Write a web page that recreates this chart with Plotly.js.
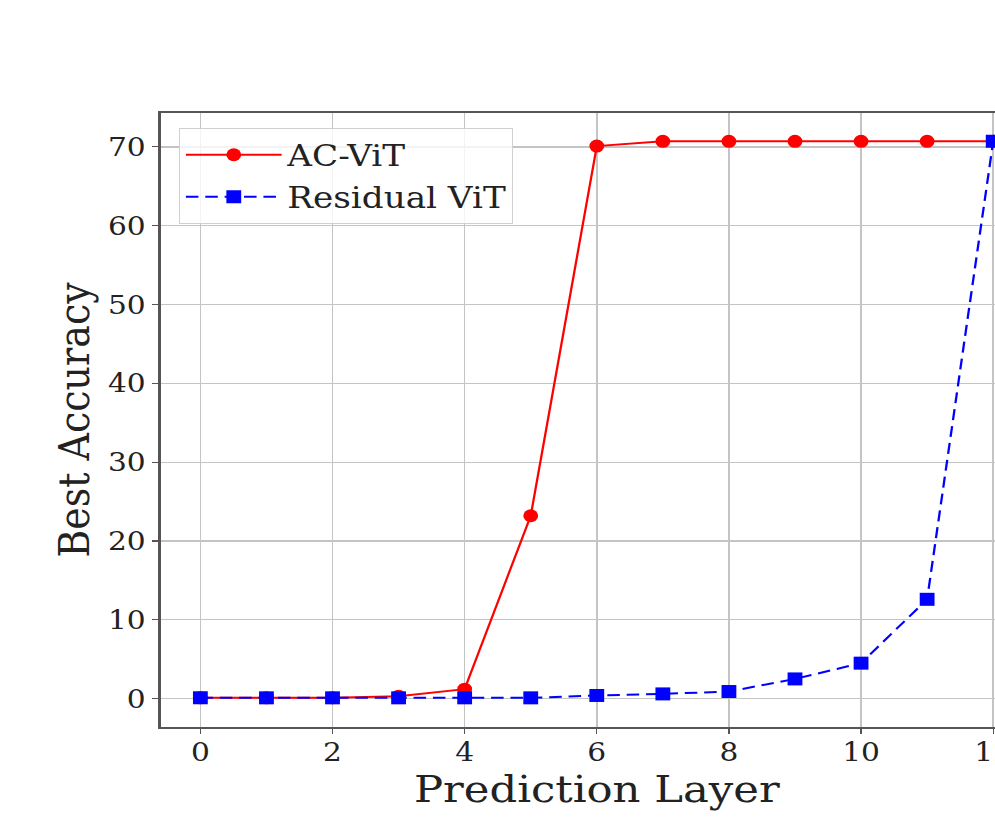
<!DOCTYPE html>
<html>
<head>
<meta charset="utf-8">
<script src="https://cdn.plot.ly/plotly-3.0.1.min.js"></script>
<style>
html,body{margin:0;padding:0;overflow:hidden;background:#fff;}
#wrap{width:995px;height:817px;overflow:hidden;position:relative;}
#chart{width:930px;height:817px;transform:scaleX(1.14);transform-origin:0 0;position:absolute;left:0;top:0;}
</style>
</head>
<body>
<div id="wrap"><div id="chart"></div></div>
<script>
const layers = [0,1,2,3,4,5,6,7,8,9,10,11,12];
const acVit = [0.1,0.1,0.1,0.3,1.2,23.2,70.1,70.7,70.7,70.7,70.7,70.7,70.7];
const residualVit = [0.1,0.1,0.1,0.1,0.1,0.1,0.4,0.6,0.9,2.5,4.5,12.6,70.7];
const xTicks = [0,2,4,6,8,10,12];
const yTicks = [0,10,20,30,40,50,60,70];

const font = 'DejaVu Serif, serif';
const traces = [
  {x: layers, y: acVit, name: 'AC-ViT', type: 'scatter', mode: 'lines+markers',
   line: {color: '#ff0000', width: 2}, marker: {color: '#ff0000', size: 13, symbol: 'circle'}},
  {x: layers, y: residualVit, name: 'Residual ViT', type: 'scatter', mode: 'lines+markers',
   line: {color: '#0000ff', width: 2, dash: '11px,6px'}, marker: {color: '#0000ff', size: 13, symbol: 'square'}}
];
const layout = {
  width: 930, height: 817,
  margin: {l: 141, r: 24, t: 113, b: 90},
  paper_bgcolor: '#fff', plot_bgcolor: '#fff',
  font: {family: font, color: '#222', size: 26},
  showlegend: true,
  legend: {x: 0.021, y: 0.976, xanchor: 'left', yanchor: 'top',
    bgcolor: 'rgba(255,255,255,0.8)', bordercolor: '#d0d0d0', borderwidth: 1,
    itemwidth: 84,
    font: {family: font, size: 30, color: '#222'}, tracegroupgap: 0},
  xaxis: {range: [-0.6, 12.6], tickvals: xTicks, ticktext: xTicks.map(String),
    showgrid: true, gridcolor: '#c4c4c4', gridwidth: 1.3, zeroline: false,
    showline: true, linecolor: '#555', linewidth: 2, mirror: true,
    ticks: 'outside', ticklen: 5, tickcolor: '#555', tickwidth: 1.2,
    ticklabelstandoff: -4,
    tickfont: {family: font, size: 26, color: '#222'},
    title: {text: 'Prediction Layer', font: {family: font, size: 38, color: '#222'}, standoff: 1}},
  yaxis: {range: [-3.6, 74.3], tickvals: yTicks, ticktext: yTicks.map(String),
    showgrid: true, gridcolor: '#c4c4c4', gridwidth: 1.3, zeroline: false,
    showline: true, linecolor: '#555', linewidth: 2, mirror: true,
    ticks: 'outside', ticklen: 6, tickcolor: '#555', tickwidth: 1.2,
    tickfont: {family: font, size: 26, color: '#222'},
    title: {text: 'Best Accuracy', font: {family: font, size: 38, color: '#222'}, standoff: 4}}
};
Plotly.newPlot('chart', traces, layout, {displayModeBar: false, staticPlot: true});
</script>
</body>
</html>
